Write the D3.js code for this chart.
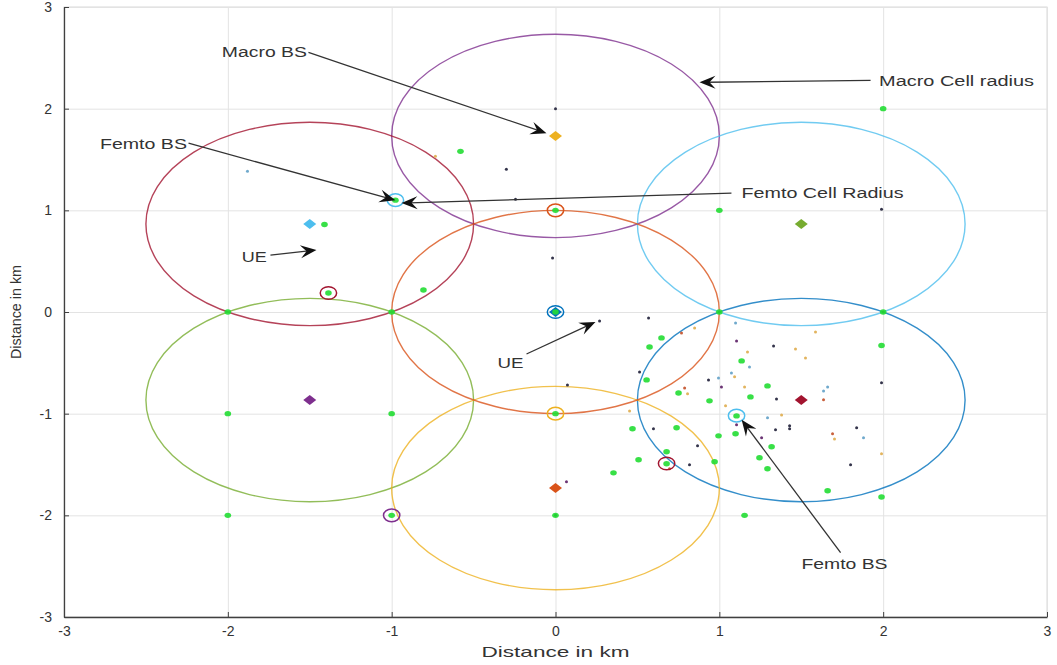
<!DOCTYPE html>
<html>
<head>
<meta charset="utf-8">
<script src="https://cdn.jsdelivr.net/npm/d3@7"></script>
<style>
  body { margin: 0; background: #fff; }
  text { font-family: "Liberation Sans", Arial, sans-serif; fill: #333; }
</style>
</head>
<body>
<div id="chart"></div>
<script>
const width = 1057;
const height = 665;
const margin = {top: 7, right: 10, bottom: 48, left: 64};

// macro base stations (hexagonal layout, radius 1 km)
const macroX = [0, -1.5, 1.5, -1.5, 1.5, 0, 0];
const macroY = [1.732, 0.866, 0.866, -0.866, -0.866, -1.732, 0];
const macroRadius = 1;
const circleColors = ["#7E2F8E", "#A2142F", "#4DBEEE", "#77AC30", "#0072BD", "#EDB120", "#D95319"];
const bsColors = ["#EDB120", "#4DBEEE", "#77AC30", "#7E2F8E", "#A2142F", "#D95319", "#0072BD"];

// femto base stations
const femtoX = [0, -0.977, -1.386, 0, 0, -1, 0.678, 1.105];
const femtoY = [1, 1.10, 0.187, 0, -1, -2, -1.49, -1.02];
const femtoRadius = 0.05;
const femtoColors = ["#D95319", "#4DBEEE", "#A2142F", "#0072BD", "#EDB120", "#7E2F8E", "#A2142F", "#4DBEEE"];

// UE positions (green)
const ueGreen = [
  [-2, 0], [-1, 0], [-2, -1], [-1, -1], [-2, -2], [-1, -2], [0, -2], [0, 1], [0, 0], [0, -1],
  [1, 1], [1, 0], [2, 0], [2, 2], [-1.41, 0.86], [-1.386, 0.187], [-0.58, 1.58], [-0.806, 0.216],
  [-0.977, 1.10], [0.647, -0.255], [0.574, -0.344], [0.556, -0.668], [0.751, -0.796], [0.94, -0.874],
  [1.136, -0.481], [1.294, -0.727], [1.19, -0.835], [1.105, -1.022], [0.47, -1.149], [0.739, -1.139],
  [0.995, -1.218], [1.099, -1.198], [1.319, -1.326], [0.678, -1.375], [0.507, -1.454], [0.678, -1.493],
  [0.971, -1.473], [1.245, -1.434], [1.294, -1.542], [0.354, -1.582], [1.661, -1.758], [1.99, -0.33],
  [1.99, -1.82], [1.154, -2.0]
];

// small UE markers of the other series
const ueDark = [
  [0.269, -0.088], [0.568, -0.059], [0.513, -0.589], [1.331, -0.334], [0.934, -0.668], [1.349, -0.855],
  [1.429, -1.12], [1.429, -1.149], [1.343, -1.159], [0.598, -1.149], [0.867, -1.316], [0.818, -1.503],
  [1.801, -1.503], [1.838, -1.139], [1.99, -0.697], [0, 2.0], [-0.244, 1.11], [-0.018, 0.53], [1.99, 1.01],
  [0.073, -0.717], [-0.3, 1.405], [0, -2], [2, 0], [1, 0]
];
const ueTan = [
  [0.849, -0.157], [1.172, -0.393], [1.465, -0.363], [1.526, -0.452], [1.587, -0.196], [1.093, -0.638],
  [0.806, -0.805], [1.154, -0.737], [0.452, -0.973], [1.038, -0.923], [1.38, -1.012], [1.703, -1.248],
  [1.99, -1.395], [-0.733, 1.532]
];
const ueRed = [[0.769, -0.206], [0.788, -0.747], [1.636, -0.864], [1.691, -1.198], [0.696, -1.542]];
const ueBlue = [
  [1.099, -0.108], [1.184, -0.54], [1.074, -0.599], [1.636, -0.776], [1.661, -0.737], [0.995, -0.648],
  [1.294, -1.041], [1.88, -1.238], [-1.88, 1.385]
];
const uePurple = [[1.105, -0.285], [1.013, -0.737], [1.105, -1.11], [1.258, -1.238], [0.067, -1.67]];

// annotations: label, label centre, arrow start, arrow tip
const annLabels = ["Macro BS", "Femto BS", "UE", "Femto Cell Radius", "Macro Cell radius", "UE", "Femto BS"];
const annText = [[-1.777, 2.554], [-2.515, 1.65], [-1.838, 0.54], [1.63, 1.169], [2.448, 2.269], [-0.275, -0.501], [1.764, -2.475]];
const annWidth = [85, 87, 25, 162, 155, 26, 86];
const annFrom = [[-1.508, 2.554], [-2.24, 1.66], [-1.74, 0.56], [1.074, 1.169], [1.923, 2.279], [-0.177, -0.413], [1.74, -2.367]];
const annTo = [[-0.055, 1.758], [-0.977, 1.10], [-1.459, 0.609], [-0.94, 1.071], [0.879, 2.259], [0.244, -0.098], [1.136, -1.061]];

const ticks = [-3, -2, -1, 0, 1, 2, 3];

const svg = d3.select("#chart")
  .append("svg")
  .attr("width", width)
  .attr("height", height);

const x = d3.scaleLinear().domain([-3, 3]).range([margin.left, width - margin.right]);
const y = d3.scaleLinear().domain([-3, 3]).range([height - margin.bottom, margin.top]);

// box + grid
svg.append("rect")
  .attr("x", x(-3)).attr("y", y(3))
  .attr("width", x(3) - x(-3)).attr("height", y(-3) - y(3))
  .attr("fill", "#fff").attr("stroke", "#d9d9d9");

svg.append("g")
  .attr("transform", `translate(0,${y(-3)})`)
  .call(d3.axisBottom(x).tickValues(ticks).tickSize(-(y(-3) - y(3))).tickFormat(""))
  .call(g => g.select(".domain").remove())
  .call(g => g.selectAll("line").attr("stroke", "#e3e3e3"));

svg.append("g")
  .attr("transform", `translate(${x(-3)},0)`)
  .call(d3.axisLeft(y).tickValues(ticks).tickSize(-(x(3) - x(-3))).tickFormat(""))
  .call(g => g.select(".domain").remove())
  .call(g => g.selectAll("line").attr("stroke", "#e3e3e3"));

// macro cells
svg.selectAll(".macro")
  .data(macroX)
  .enter()
  .append("ellipse")
  .attr("class", "macro")
  .attr("cx", d => x(d))
  .attr("cy", (d, i) => y(macroY[i]))
  .attr("rx", x(macroRadius) - x(0))
  .attr("ry", y(0) - y(macroRadius))
  .attr("fill", "none")
  .attr("stroke", (d, i) => circleColors[i])
  .attr("stroke-opacity", 0.8)
  .attr("stroke-width", 1.4);

// small UE dots
const smallSets = [[ueTan, "#e2b45e"], [ueRed, "#c9603c"], [ueBlue, "#6fa9cc"], [uePurple, "#6b3474"], [ueDark, "#33334a"]];
smallSets.forEach(([pts, col]) => {
  svg.append("g").selectAll("circle")
    .data(pts)
    .enter()
    .append("circle")
    .attr("cx", d => x(d[0]))
    .attr("cy", d => y(d[1]))
    .attr("r", 1.5)
    .attr("fill", col);
});

// macro BS diamonds
svg.selectAll(".bs")
  .data(macroX)
  .enter()
  .append("path")
  .attr("class", "bs")
  .attr("d", "M0,-5L6.5,0L0,5L-6.5,0Z")
  .attr("transform", (d, i) => `translate(${x(d)},${y(macroY[i])})`)
  .attr("fill", (d, i) => bsColors[i]);

// femto cells
svg.selectAll(".femto")
  .data(femtoX)
  .enter()
  .append("ellipse")
  .attr("class", "femto")
  .attr("cx", d => x(d))
  .attr("cy", (d, i) => y(femtoY[i]))
  .attr("rx", x(femtoRadius) - x(0))
  .attr("ry", (y(0) - y(femtoRadius)) * 1.25)
  .attr("fill", "none")
  .attr("stroke", (d, i) => femtoColors[i])
  .attr("stroke-width", 1.5);

// green UEs
svg.append("g").selectAll("ellipse")
  .data(ueGreen)
  .enter()
  .append("ellipse")
  .attr("cx", d => x(d[0]))
  .attr("cy", d => y(d[1]))
  .attr("rx", 3.3)
  .attr("ry", 2.7)
  .attr("fill", "#22dd33")
  .attr("fill-opacity", 0.9);

// annotations
const ann = svg.append("g");
annLabels.forEach((label, i) => {
  const x0 = x(annFrom[i][0]), y0 = y(annFrom[i][1]);
  const x1 = x(annTo[i][0]), y1 = y(annTo[i][1]);
  const a = Math.atan2(y1 - y0, x1 - x0);
  ann.append("line")
    .attr("x1", x0).attr("y1", y0)
    .attr("x2", x1 - 8 * Math.cos(a)).attr("y2", y1 - 8 * Math.sin(a))
    .attr("stroke", "#333")
    .attr("stroke-width", 1.3);
  ann.append("path")
    .attr("d", "M0,0L-16,-6.5L-10,0L-16,6.5Z")
    .attr("transform", `translate(${x1},${y1}) rotate(${a * 180 / Math.PI})`)
    .attr("fill", "#111");
  ann.append("text")
    .attr("x", x(annText[i][0]))
    .attr("y", y(annText[i][1]))
    .attr("dy", "0.36em")
    .attr("text-anchor", "middle")
    .attr("font-size", 14)
    .attr("textLength", annWidth[i])
    .attr("lengthAdjust", "spacingAndGlyphs")
    .text(label);
});

// axes
const fmt = d => String(d);
const xAxis = svg.append("g")
  .attr("transform", `translate(0,${y(-3)})`)
  .call(d3.axisBottom(x).tickValues(ticks).tickFormat(fmt).tickSizeInner(-5).tickSizeOuter(0).tickPadding(9));
const yAxis = svg.append("g")
  .attr("transform", `translate(${x(-3)},0)`)
  .call(d3.axisLeft(y).tickValues(ticks).tickFormat(fmt).tickSizeInner(-5).tickSizeOuter(0).tickPadding(12));
[xAxis, yAxis].forEach(g => {
  g.select(".domain").attr("stroke", "#404040").attr("stroke-width", 1.3);
  g.selectAll(".tick line").attr("stroke", "#404040");
  g.selectAll(".tick text").attr("font-size", 14).attr("fill", "#333")
    .attr("font-family", "Liberation Sans, Arial, sans-serif");
});

svg.append("text")
  .attr("x", x(0))
  .attr("y", 657)
  .attr("text-anchor", "middle")
  .attr("font-size", 15)
  .attr("textLength", 148)
  .attr("lengthAdjust", "spacingAndGlyphs")
  .text("Distance in km");

svg.append("text")
  .attr("transform", `translate(21,${y(0)}) rotate(-90)`)
  .attr("text-anchor", "middle")
  .attr("font-size", 14)
  .attr("textLength", 94)
  .attr("lengthAdjust", "spacingAndGlyphs")
  .text("Distance in km");
</script>
</body>
</html>
